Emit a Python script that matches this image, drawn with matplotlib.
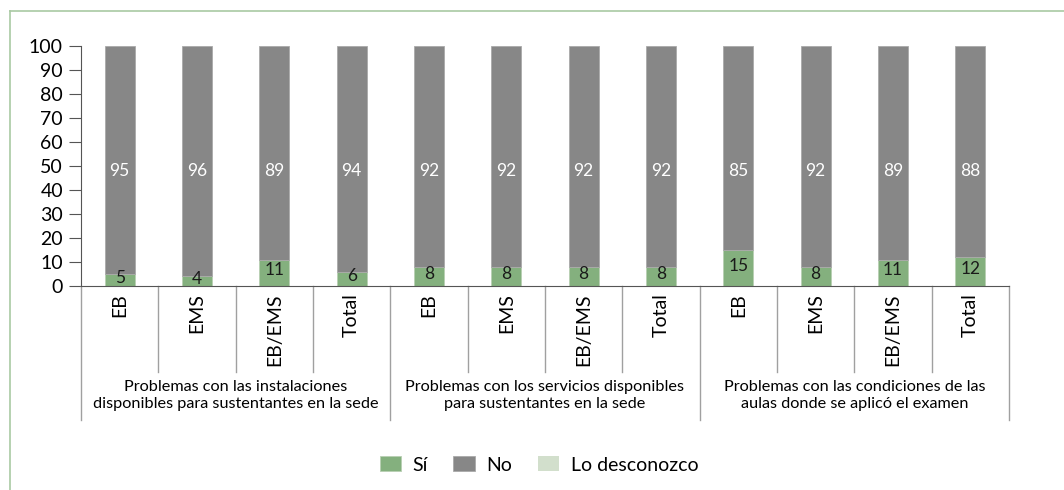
import numpy as np
import matplotlib.pyplot as plt
from matplotlib.lines import Line2D

plt.rcParams['font.family'] = ['Lato', 'DejaVu Sans']

# data
subgroups = ['EB', 'EMS', 'EB/EMS', 'Total']
groups = ['Problemas con las instalaciones\ndisponibles para sustentantes en la sede',
          'Problemas con los servicios disponibles\npara sustentantes en la sede',
          'Problemas con las condiciones de las\naulas donde se aplicó el examen']
si = [5, 4, 11, 6, 8, 8, 8, 8, 15, 8, 11, 12]
no = [95, 96, 89, 94, 92, 92, 92, 92, 85, 92, 89, 88]
desconozco = [0, 0, 0, 0, 0, 0, 0, 0, 0, 0, 0, 0]

c_si = '#84b07e'
c_no = '#878787'
c_des = '#d2dfcc'
c_line = '#a0a0a0'

fig = plt.figure(figsize=(10.64, 4.9), dpi=100)
ax = fig.add_axes([0.0761, 0.4163, 0.8722, 0.4898])

n = len(si)
x = np.arange(n)
si = np.array(si)
no = np.array(no)
des = np.array(desconozco)
w = 0.39
ax.bar(x, si, w, color=c_si, label='Sí', edgecolor='#b8cfb3', linewidth=0.6)
ax.bar(x, no, w, bottom=si, color=c_no, label='No', edgecolor='#aaaaaa', linewidth=0.6)
ax.bar(x, des, w, bottom=si + no, color=c_des, label='Lo desconozco')

for i in range(n):
    ax.text(x[i], si[i] / 2 + 1, str(si[i]), ha='center', va='center', fontsize=12.5, color='#1a1a1a')
    ax.text(x[i], 48, str(no[i]), ha='center', va='center', fontsize=12.5, color='white')

ax.set_xlim(-0.5, n - 0.5)
ax.set_ylim(0, 100)
ax.set_yticks(range(0, 101, 10))
ax.tick_params(axis='y', labelsize=14, length=9, color='#555555', pad=4)
ax.set_xticks([])
for s in ['top', 'right']:
    ax.spines[s].set_visible(False)
ax.spines['left'].set_color('#555555')
ax.spines['bottom'].set_color('#555555')

# category labels and separators below the axis
trans = ax.get_xaxis_transform()
for i in range(n):
    ax.text(x[i], -0.03, subgroups[i % 4], rotation=90, ha='center', va='top',
            fontsize=14, transform=trans)
for b in range(n + 1):
    bottom = -0.558 if b % 4 == 0 else -0.358
    ax.add_line(Line2D([b - 0.5, b - 0.5], [0, bottom], transform=trans,
                       color=c_line, linewidth=1, clip_on=False))
for g in range(3):
    ax.text(g * 4 + 1.5, -0.455, groups[g], ha='center', va='center', fontsize=11.7,
            linespacing=1.3, transform=trans)

fig.legend(loc='center', bbox_to_anchor=(539 / 1064, 1 - 465 / 490), ncol=3, frameon=False,
           fontsize=14, handlelength=1.1, handleheight=0.8, columnspacing=1.3,
           handletextpad=0.6)

# light green frame (top and left only)
fig.add_artist(Line2D([10 / 1064, 1], [1 - 11 / 490, 1 - 11 / 490], transform=fig.transFigure,
                      color='#a9c9a3', linewidth=1.2))
fig.add_artist(Line2D([10 / 1064, 10 / 1064], [0, 1 - 11 / 490], transform=fig.transFigure,
                      color='#a9c9a3', linewidth=1.2))

fig.savefig('out.png', dpi=100)
